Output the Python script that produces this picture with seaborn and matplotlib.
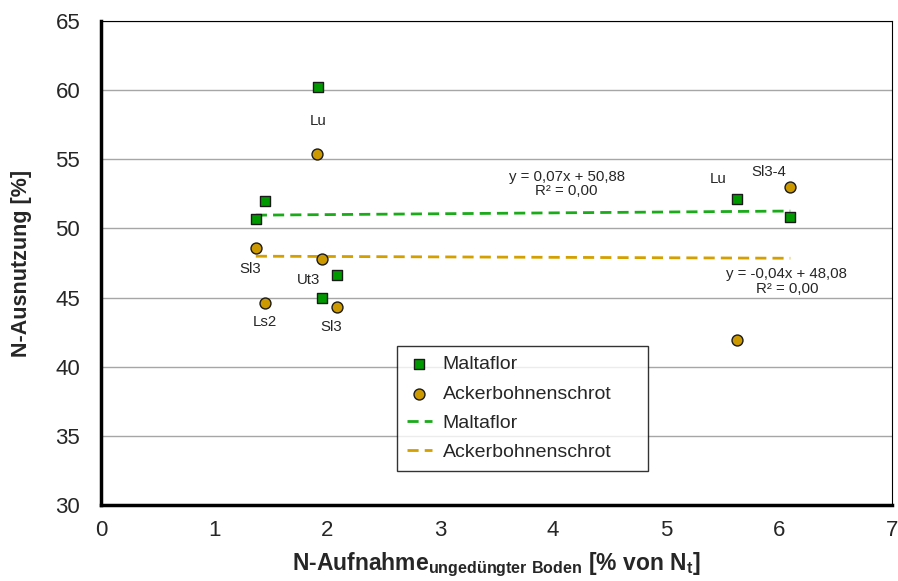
import pandas as pd
import seaborn as sns
import matplotlib.pyplot as plt
import numpy as np

# values
malta_x = [1.92, 1.45, 1.37, 2.09, 1.96, 5.63, 6.10]
malta_y = [60.2, 52.0, 50.7, 46.6, 45.0, 52.1, 50.8]
acker_x = [1.91, 1.37, 1.96, 1.45, 2.09, 6.10, 5.63]
acker_y = [55.4, 48.6, 47.8, 44.6, 44.3, 53.0, 41.9]

soil_labels = ['Lu', 'Sl3', 'Ut3', 'Ls2', 'Sl3', 'Lu', 'Sl3-4']
soil_x = [1.92, 1.32, 1.84, 1.45, 2.04, 5.46, 5.91]
soil_y = [57.75, 47.05, 46.3, 43.2, 42.9, 53.6, 54.1]

eq_malta = 'y = 0,07x + 50,88\nR² = 0,00'
eq_acker = 'y = -0,04x + 48,08\nR² = 0,00'

green = '#009900'
gold = '#CC9900'

sns.set_style('white')
plt.rcParams['font.family'] = ['Liberation Sans', 'DejaVu Sans']
plt.rcParams['mathtext.fontset'] = 'custom'
plt.rcParams['mathtext.rm'] = 'Liberation Sans'
plt.rcParams['mathtext.bf'] = 'Liberation Sans:bold'

df_m = pd.DataFrame({'x': malta_x, 'y': malta_y})
df_a = pd.DataFrame({'x': acker_x, 'y': acker_y})

fig = plt.figure(figsize=(8.98, 5.81), dpi=100)
ax = fig.add_axes([0.1125, 0.1308, 0.8808, 0.8331])

sns.scatterplot(data=df_m, x='x', y='y', marker='s', s=62, color=green,
                edgecolor='#1a1a1a', linewidth=1, label='Maltaflor', ax=ax, zorder=4)
sns.scatterplot(data=df_a, x='x', y='y', marker='o', s=62, color=gold,
                edgecolor='#1a1a1a', linewidth=1, label='Ackerbohnenschrot', ax=ax, zorder=4)
sns.regplot(data=df_m, x='x', y='y', scatter=False, ci=None, truncate=True, ax=ax,
            color='#1AAA1A', label='Maltaflor',
            line_kws=dict(ls=(0, (4, 2.2)), lw=2))
sns.regplot(data=df_a, x='x', y='y', scatter=False, ci=None, truncate=True, ax=ax,
            color='#D4A000', label='Ackerbohnenschrot',
            line_kws=dict(ls=(0, (4, 2.2)), lw=2))

for lab, lx, ly in zip(soil_labels, soil_x, soil_y):
    ax.text(lx, ly, lab, fontsize=10.8, ha='center', va='center')

ax.text(4.12, 53.2, eq_malta, fontsize=10.8, ha='center', va='center', linespacing=1.05)
ax.text(6.07, 46.15, eq_acker, fontsize=10.8, ha='center', va='center', linespacing=1.05)

ax.set_xlim(0, 7)
ax.set_ylim(30, 65)
ax.set_xticks(range(0, 8))
ax.set_yticks(range(30, 66, 5))
ax.yaxis.grid(True, color='#A6A6A6', lw=1)
ax.set_axisbelow(True)

for side in ['left', 'bottom']:
    ax.spines[side].set_linewidth(2.5)
    ax.spines[side].set_color('black')
for side in ['top', 'right']:
    ax.spines[side].set_linewidth(0.8)
    ax.spines[side].set_color('black')

ax.tick_params(axis='both', direction='inout', length=12, width=2,
               labelsize=16, color='black')
ax.tick_params(axis='x', pad=5)
ax.tick_params(axis='y', pad=9)

ax.set_xlabel(r'N-Aufnahme$_{\mathbf{ungedüngter\ Boden}}$ [% von N$_{\mathbf{t}}$]',
              fontsize=16.5, fontweight='bold', labelpad=7)
ax.set_ylabel('N-Ausnutzung [%]', fontsize=15.5, fontweight='bold', labelpad=17)

leg = ax.legend(loc='upper left', bbox_to_anchor=(0.374, 0.3285, 0.317, 0.0),
                mode='expand', borderaxespad=0,
                fontsize=14, frameon=True, fancybox=False, edgecolor='black',
                handlelength=1.3, handletextpad=0.55, labelspacing=0.6,
                borderpad=0.5)
leg.get_frame().set_linewidth(1)

fig.savefig('out.png', dpi=100)
